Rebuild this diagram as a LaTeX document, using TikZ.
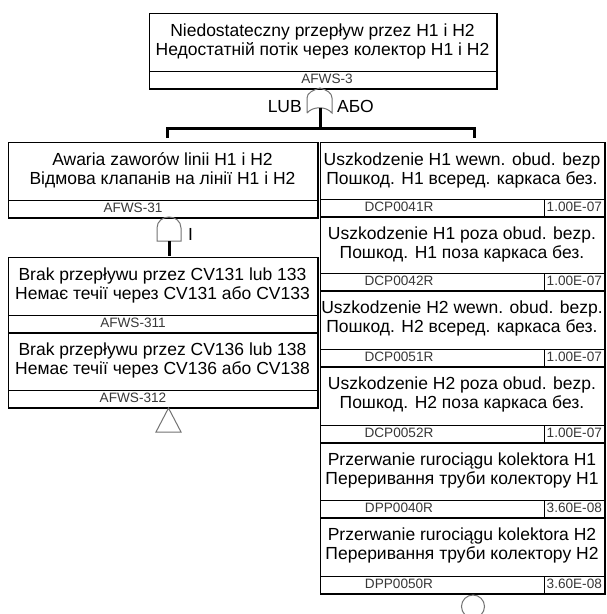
\documentclass[tikz,border=0pt]{standalone}
\usepackage{fontspec}
\setmainfont{Liberation Sans}
\tikzset{
  boxn/.style={draw=black, line width=1pt, inner sep=0pt, outer sep=0pt, rectangle},
  boxline/.style={draw=black, line width=1pt},
  maintxt/.style={font=\fontsize{17.5}{19}\selectfont, anchor=base, inner sep=0pt, text=black},
  idtxt/.style={font=\fontsize{13.6}{14}\selectfont, anchor=base, inner sep=0pt, text=black!78},
  gateline/.style={draw=black!55, line width=1pt},
  conn/.style={draw=black, line width=3pt, line join=miter}
}
\newcommand\ftbox[5]{%
  \node[boxn, minimum width={#4-#2}, minimum height={#5-#3}, anchor=north west] (#1) at (#2,#3) {};
  \draw[boxline] ([xshift=1pt]#1.north east) -- ([xshift=1pt,yshift=-1pt]#1.south east) -- ([yshift=-1pt]#1.south west);
  \draw[boxline] ([yshift=17pt]#1.south west) -- ([yshift=17pt]#1.south east);
}
\newcommand\fttext[5]{%
  \node[maintxt] (#1a) at (#2,{#3+23}) {#4};
  \node[maintxt] (#1b) at (#2,{#3+42}) {#5};
}
\newcommand\ftid[4]{%
  \node[idtxt] (#1i) at (#2,{#3-4.5}) {#4};
}
\newcommand\ftprob[3]{%
  \draw[boxline] (544,{#2-17}) -- (544,#2);
  \node[idtxt, anchor=base west] (#1p) at (546.5,{#2-4.5}) {#3};
}
\begin{document}
\begin{tikzpicture}[x=1pt,y=-1pt]
\clip (0,0) rectangle (606,614);
\fill[white] (0,0) rectangle (606,614);

% top event
\ftbox{top}{149}{13}{496}{88}
\fttext{top}{322.5}{13}{Niedostateczny przepływ przez H1 i H2}{Недостатній потік через колектор H1 і H2}
\ftid{top}{327}{88}{AFWS-3}

% OR gate
\draw[gateline] (307,113) -- (307,98) .. controls (307,93) and (313,90) .. (320,88)
  .. controls (327,90) and (332,93) .. (332,98) -- (332,113)
  .. controls (326,106) and (313,106) .. (307,113);
\node[maintxt, anchor=base east] (lub) at (302,112) {LUB};
\node[maintxt, anchor=base west] (abo) at (337,112) {АБО};
\coordinate (orout) at (320,108);
\coordinate (barc) at (320,128);
\coordinate (barl) at (167,128);
\coordinate (barr) at (474,128);
\coordinate (tickl) at (167,138);
\coordinate (tickr) at (474,138);
\draw[conn] (orout) -- (barc);
\draw[conn] (tickl) -- (barl) -- (barr) -- (tickr);

% left branch
\ftbox{aw}{8}{142}{317}{217}
\fttext{aw}{162.5}{142}{Awaria zaworów linii H1 i H2}{Відмова клапанів на лінії H1 і H2}
\ftid{aw}{133}{217}{AFWS-31}

% AND gate
\draw[gateline] (157,241) -- (157,228) .. controls (157,221) and (163,217) .. (169,217)
  .. controls (175,217) and (181,221) .. (181,228) -- (181,241) -- cycle;
\node[maintxt, anchor=base] (andlbl) at (190.5,240) {I};
\coordinate (andout) at (169,241);
\coordinate (andend) at (169,256);
\draw[conn] (andout) -- (andend);

\ftbox{br1}{8}{257}{317}{332}
\fttext{br1}{162.5}{257}{Brak przepływu przez CV131 lub 133}{Немає течії через CV131 або CV133}
\ftid{br1}{133}{332}{AFWS-311}

\ftbox{br2}{8}{332}{317}{407}
\fttext{br2}{162.5}{332}{Brak przepływu przez CV136 lub 138}{Немає течії через CV136 або CV138}
\ftid{br2}{133}{407}{AFWS-312}

\draw[gateline] (168.5,408) -- (181,432) -- (156,432) -- cycle;

% right column
\ftbox{e1}{320}{142}{604}{216}
\fttext{e1}{462}{142}{Uszkodzenie H1 wewn. obud. bezp}{Пошкод. H1 всеред. каркаса без.}
\ftid{e1}{399}{216}{DCP0041R}
\ftprob{e1}{216}{1.00E-07}

\ftbox{e2}{320}{216}{604}{290}
\fttext{e2}{462}{216}{Uszkodzenie H1 poza obud. bezp.}{Пошкод. H1 поза каркаса без.}
\ftid{e2}{399}{290}{DCP0042R}
\ftprob{e2}{290}{1.00E-07}

\ftbox{e3}{320}{290}{604}{366}
\fttext{e3}{462}{290}{Uszkodzenie H2 wewn. obud. bezp.}{Пошкод. H2 всеред. каркаса без.}
\ftid{e3}{399}{366}{DCP0051R}
\ftprob{e3}{366}{1.00E-07}

\ftbox{e4}{320}{366}{604}{442}
\fttext{e4}{462}{366}{Uszkodzenie H2 poza obud. bezp.}{Пошкод. H2 поза каркаса без.}
\ftid{e4}{399}{442}{DCP0052R}
\ftprob{e4}{442}{1.00E-07}

\ftbox{e5}{320}{442}{604}{517}
\fttext{e5}{462}{442}{Przerwanie rurociągu kolektora H1}{Переривання труби колектору H1}
\ftid{e5}{399}{517}{DPP0040R}
\ftprob{e5}{517}{3.60E-08}

\ftbox{e6}{320}{517}{604}{593}
\fttext{e6}{462}{517}{Przerwanie rurociągu kolektora H2}{Переривання труби колектору H2}
\ftid{e6}{399}{593}{DPP0050R}
\ftprob{e6}{593}{3.60E-08}

\draw[gateline] (473,606.5) circle (11.5);
\end{tikzpicture}
\end{document}
